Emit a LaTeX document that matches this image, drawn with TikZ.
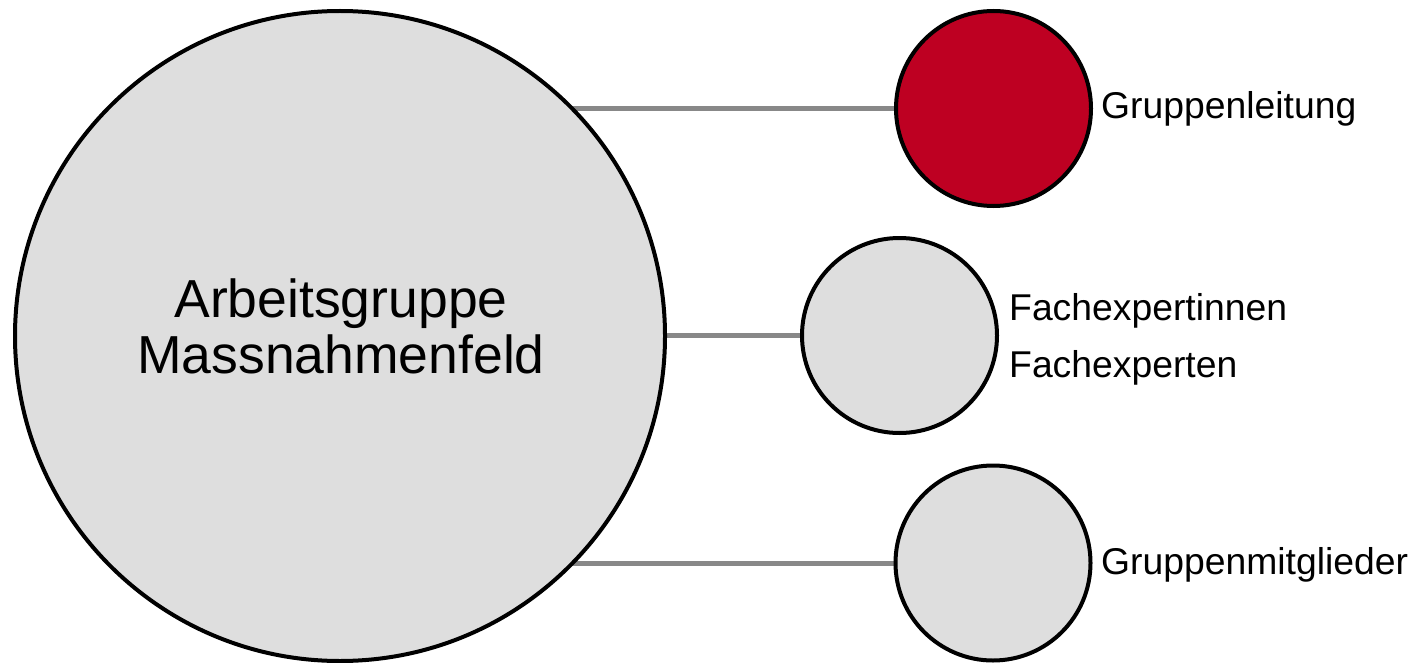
\documentclass[tikz,border=0pt]{standalone}
\usepackage{fontspec}
\setmainfont{Liberation Sans}
\usetikzlibrary{backgrounds}
\definecolor{fillgray}{HTML}{DEDEDE}
\definecolor{linkgray}{HTML}{888888}
\definecolor{leadred}{HTML}{BE0022}
\begin{document}
\begin{tikzpicture}[x=1pt,y=-1pt,
  roundnode/.style={circle,draw=black,line width=4pt,inner sep=0pt,fill=fillgray},
  link/.style={draw=linkgray,line width=5pt},
  lbl/.style={inner sep=0pt,font=\fontsize{37.3}{56.6}\selectfont,align=left}]
\useasboundingbox (0,0) rectangle (1420,663);
\node[roundnode,minimum size=650pt] (big) at (340,336) {};
\node[inner sep=0pt,align=center,anchor=base,
      font=\fontsize{53.5}{56}\selectfont] (bigtxt) at (341,373)
      {Arbeitsgruppe\\Massnahmenfeld};
\node[roundnode,fill=leadred,minimum size=195pt] (lead) at (993.5,108.5) {};
\node[roundnode,minimum size=195pt] (expert) at (899.5,335.5) {};
\node[roundnode,minimum size=195pt] (member) at (993,563) {};
\node[lbl,anchor=base west] (leadtxt) at (1101,119) {Gruppenleitung};
\node[lbl,anchor=base west] (experttxt) at (1009,377.3) {Fachexpertinnen\\Fachexperten};
\node[lbl,anchor=base west] (membertxt) at (1101,574) {Gruppenmitglieder};
\begin{scope}[on background layer]
  \draw[link] (lead.west) -- (lead.west -| big.center);
  \draw[link] (expert.west) -- (expert.west -| big.center);
  \draw[link] (member.west) -- (member.west -| big.center);
\end{scope}
\end{tikzpicture}
\end{document}
